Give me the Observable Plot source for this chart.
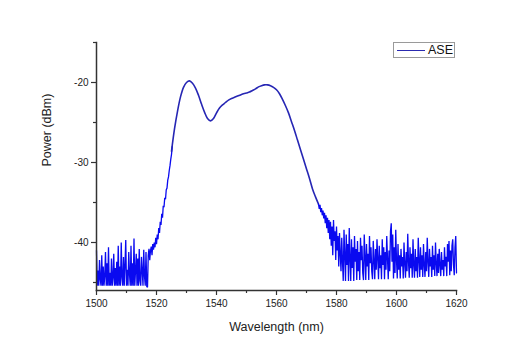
<!DOCTYPE html>
<html>
<head>
<meta charset="utf-8">
<script src="https://cdn.jsdelivr.net/npm/d3@7"></script>
<script src="https://cdn.jsdelivr.net/npm/@observablehq/plot@0.6"></script>
<style>
  html, body { margin: 0; padding: 0; background: #fff; }
  #wrap { position: relative; width: 529px; height: 359px; }
  #legend { position: absolute; left: 393px; top: 42px; width: 62px; height: 16px;
    border: 1px solid #9a9a9a; box-sizing: border-box; background: #fff;
    font: 12.5px "Liberation Sans", Arial, sans-serif; color: #111; }
  #legend .ln { position: absolute; left: 3px; top: 6.5px; width: 28px; height: 0; border-top: 1.5px solid #2a2ab0; }
  #legend .tx { position: absolute; left: 34px; top: 0px; line-height: 14px; }
</style>
</head>
<body>
<div id="wrap"><div id="legend"><span class="ln"></span><span class="tx">ASE</span></div></div>
<script>
// ---- data ----
const seriesName = "ASE";
const xLabel = "Wavelength (nm)";
const yLabel = "Power (dBm)";
const xTicks = [1500, 1520, 1540, 1560, 1580, 1600, 1620];
const xMinorTicks = [1510, 1530, 1550, 1570, 1590, 1610];
const yTicks = [-40, -30, -20];
const yMinorTicks = [-45, -35, -25, -15];

// noisy floor below the band and its rising edge, 0.25 nm sampling from 1500.00 nm
const leftStart = 1500.0, leftStep = 0.25;
const leftPower = [
  -41.0, -45.4, -43.5, -45.4, -42.2, -44.6, -45.4, -41.6, -45.4, -43.0,
  -45.4, -44.2, -41.2, -45.4, -42.6, -45.4, -40.6, -45.4, -43.8, -45.4,
  -42.0, -45.4, -44.4, -41.4, -45.4, -43.2, -45.4, -42.4, -45.4, -40.4,
  -45.4, -43.0, -45.4, -40.0, -44.4, -45.4, -41.8, -45.4, -42.8, -39.7,
  -45.4, -43.4, -45.4, -41.2, -44.0, -45.4, -40.4, -45.4, -42.6, -45.4,
  -39.5, -45.4, -43.6, -41.4, -45.4, -42.0, -45.4, -40.8, -44.8, -45.4,
  -41.8, -43.6, -45.4, -40.9, -44.2, -45.4, -41.2, -45.5, -45.6, -41.6,
  -40.8, -42.2, -41.0, -40.5, -41.6, -40.2, -40.9,
  // rising edge 1519.25 .. 1525.25
  -40.0, -40.6, -39.4, -40.2, -39.0, -39.6, -38.2, -38.8, -37.4, -37.8,
  -36.4, -36.9, -35.4, -35.6, -34.4, -34.6, -33.4, -33.2, -32.2, -31.8,
  -31.0, -30.4, -29.6, -29.0, -28.0];

// smooth ASE band, 1 nm sampling
const bandWavelength = [1525, 1526, 1527, 1528, 1529, 1530, 1531, 1532, 1533, 1534,
  1535, 1536, 1537, 1538, 1539, 1540, 1541, 1542, 1543, 1544,
  1545, 1546, 1547, 1548, 1549, 1550, 1551, 1552, 1553, 1554,
  1555, 1556, 1557, 1558, 1559, 1560, 1561, 1562, 1563, 1564,
  1565, 1566, 1567, 1568, 1569, 1570, 1571, 1572, 1573, 1574];
const bandPower = [-28.6, -25.8, -23.6, -21.8, -20.6, -20.0, -19.8, -20.1, -20.7, -21.6,
  -22.7, -23.7, -24.5, -24.8, -24.5, -23.8, -23.2, -22.8, -22.5, -22.2,
  -22.0, -21.85, -21.7, -21.55, -21.4, -21.3, -21.2, -21.0, -20.8, -20.55,
  -20.4, -20.3, -20.3, -20.4, -20.6, -20.9, -21.4, -22.1, -22.9, -23.8,
  -24.9, -26.0, -27.2, -28.4, -29.6, -30.8, -32.0, -33.3, -34.3, -35.2];

// noisy tail above the band, 0.25 nm sampling from 1574.00 nm
const rightStart = 1574.0, rightStep = 0.25;
const rightPower = [
  -35.2, -35.8, -35.3, -36.2, -35.7, -36.6, -36.0, -37.0, -36.3, -37.6,
  -36.6, -38.2, -36.9, -38.8, -37.2, -39.6, -37.4, -40.4, -38.0, -41.6,
  -37.2, -39.8, -38.6, -42.2, -38.0, -41.0, -39.2, -43.0, -38.8, -41.4,
  -43.6, -39.4, -42.4, -44.8, -38.4, -41.6, -44.8, -39.0, -42.8, -40.2,
  -44.8, -38.2, -42.0, -44.8, -39.6, -43.2, -40.6, -44.8, -39.2, -42.4,
  -40.8, -44.7, -39.8, -43.6, -41.2, -44.7, -39.4, -42.2, -40.4, -43.8,
  -44.7, -39.0, -41.8, -44.7, -40.2, -43.0, -41.4, -44.7, -39.2, -42.6,
  -40.6, -43.6, -44.6, -39.8, -42.2, -44.6, -40.8, -43.4, -39.6, -42.0,
  -44.6, -40.4, -43.2, -41.6, -44.6, -39.6, -42.8, -40.6, -44.6, -41.2,
  -43.4, -39.2, -42.0, -44.6, -41.0, -43.6, -38.6, -37.6, -42.4, -39.0,
  -44.5, -40.6, -43.8, -38.4, -42.2, -44.5, -40.2, -43.4, -41.6, -44.5,
  -40.8, -43.0, -41.8, -44.5, -40.0, -42.6, -44.4, -41.2, -43.6, -38.9,
  -42.4, -44.4, -40.6, -43.2, -41.4, -44.4, -39.6, -42.8, -44.4, -40.8,
  -43.6, -41.8, -44.4, -39.4, -42.2, -44.3, -40.6, -43.4, -41.6, -44.3,
  -40.2, -42.8, -44.3, -41.2, -43.6, -39.4, -42.4, -44.3, -40.8, -43.0,
  -41.8, -44.3, -40.4, -43.4, -41.6, -44.2, -40.0, -42.6, -44.2, -41.4,
  -43.8, -40.8, -42.8, -44.2, -41.2, -43.4, -42.2, -44.2, -40.6, -43.0,
  -41.8, -44.2, -40.2, -42.4, -39.8, -44.1, -41.0, -43.6, -40.4, -39.6,
  -42.8, -44.1, -40.6, -39.2, -43.8];

// ---- build tables ----
const leftData = leftPower.map((p, i) => ({x: leftStart + i * leftStep, y: p}));
const bandData = bandWavelength.map((w, i) => ({x: w, y: bandPower[i]}));
const rightData = rightPower.map((p, i) => ({x: rightStart + i * rightStep, y: p}));

const bandColor = "#2626b4";
const noiseColor = "#0a0af0";
const axisColor = "#333";
const font = '"Liberation Sans", Arial, sans-serif';

const chart = Plot.plot({
  width: 529,
  height: 359,
  marginLeft: 96,
  marginRight: 73,
  marginTop: 42,
  marginBottom: 69,
  style: {fontFamily: font, fontSize: "10px", color: "#222", background: "#fff"},
  x: {domain: [1500, 1620]},
  y: {domain: [-46, -15]},
  marks: [
    Plot.line(leftData, {x: "x", y: "y", stroke: noiseColor, strokeWidth: 1.3, strokeLinejoin: "miter"}),
    Plot.line(bandData, {x: "x", y: "y", stroke: bandColor, strokeWidth: 1.6, curve: "catmull-rom"}),
    Plot.line(rightData, {x: "x", y: "y", stroke: noiseColor, strokeWidth: 1.3, strokeLinejoin: "miter"}),
    Plot.axisX({ticks: xTicks, tickSize: 5, tickPadding: 4, tickFormat: d => String(d), label: null, stroke: axisColor, strokeWidth: 1.2, fill: "#222"}),
    Plot.axisX({ticks: xMinorTicks, tickSize: 3, tickFormat: () => "", label: null, stroke: axisColor, strokeWidth: 1.2}),
    Plot.axisY({ticks: yTicks, tickSize: 5, tickPadding: 3, tickFormat: d => String(d), label: null, stroke: axisColor, strokeWidth: 1.2, fill: "#222"}),
    Plot.axisY({ticks: yMinorTicks, tickSize: 3, tickFormat: () => "", label: null, stroke: axisColor, strokeWidth: 1.2}),
    Plot.frame({anchor: "left", stroke: axisColor, strokeWidth: 1.5}),
    Plot.frame({anchor: "bottom", stroke: axisColor, strokeWidth: 1.5}),
    Plot.text([xLabel], {frameAnchor: "bottom", dy: 40, fontSize: 12.5, fill: "#222", text: d => d}),
    Plot.text([yLabel], {frameAnchor: "left", dx: -50, rotate: -90, fontSize: 12.5, fill: "#222", text: d => d})
  ]
});
document.getElementById("wrap").prepend(chart);
</script>
</body>
</html>
